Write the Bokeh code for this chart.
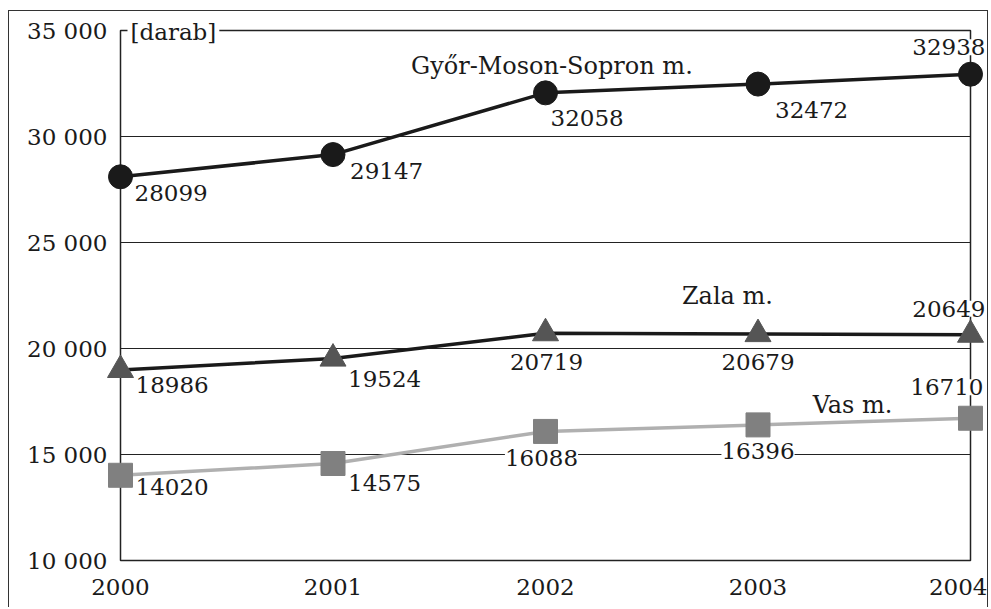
from bokeh.plotting import figure
from bokeh.models import ColumnDataSource, Range1d, FixedTicker, Label
from bokeh.embed import file_html
from bokeh.resources import INLINE
from bokeh.core.properties import value

# ---- data ----
years = [2000, 2001, 2002, 2003, 2004]
gyor = [28099, 29147, 32058, 32472, 32938]
zala = [18986, 19524, 20719, 20679, 20649]
vas = [14020, 14575, 16088, 16396, 16710]
series_names = ["Győr-Moson-Sopron m.", "Zala m.", "Vas m."]
y_ticks = [10000, 15000, 20000, 25000, 30000, 35000]
y_tick_labels = ["10 000", "15 000", "20 000", "25 000", "30 000", "35 000"]
unit_label = "[darab]"

# ---- label placement (screen px offsets, styling only) ----
gyor_align = ["left", "left", "left", "left", "right"]
gyor_xo = [14, 17, 5, 17, 15]
gyor_yo = [16, 16, 25, 26, -27]
zala_align = ["left", "left", "center", "center", "right"]
zala_xo = [15, 15, 1, 0, 15]
zala_yo = [15, 20, 29, 28, -26]
vas_align = ["left", "left", "center", "center", "right"]
vas_xo = [15, 15, -4, 0, 13]
vas_yo = [12, 19, 27, 26, -31]

FONT = "DejaVu Serif"
FS = "23px"
INK = "#1a1a1a"

p = figure(width=980, height=597, output_backend="svg", toolbar_location=None,
           x_range=Range1d(2000, 2004), y_range=Range1d(10000, 35000),
           min_border_left=111, min_border_right=19, min_border_top=19,
           min_border_bottom=48)
p.styles = {"margin-left": "8px", "margin-top": "10px",
            "border-top": "1px solid #333", "border-left": "1px solid #333",
            "border-right": "1px solid #333"}
p.background_fill_color = "white"
p.border_fill_color = "white"
p.outline_line_color = "#222222"
p.outline_line_width = 1.5

p.xgrid.visible = False
p.ygrid.ticker = FixedTicker(ticks=y_ticks[1:-1])
p.ygrid.grid_line_color = "#222222"
p.ygrid.grid_line_width = 1.2

for ax in (p.xaxis[0], p.yaxis[0]):
    ax.axis_line_color = None
    ax.major_tick_line_color = None
    ax.minor_tick_line_color = None
    ax.major_label_text_font = FONT
    ax.major_label_text_font_size = FS
    ax.major_label_text_color = INK
    ax.major_label_text_font_style = "normal"

p.yaxis[0].ticker = FixedTicker(ticks=y_ticks)
p.yaxis[0].major_label_overrides = dict(zip(y_ticks, y_tick_labels))
p.yaxis[0].major_label_standoff = 7
p.xaxis[0].ticker = FixedTicker(ticks=years)
p.xaxis[0].major_label_overrides = {y: str(y) for y in years}
p.xaxis[0].major_label_standoff = 12

# lines
p.line(years, vas, color="#b0b0b0", line_width=3.5)
p.line(years, zala, color=INK, line_width=3.5)
p.line(years, gyor, color=INK, line_width=3.5)

# data labels (drawn before markers so markers stay on top)
def add_labels(vals, align, xo, yo):
    src = ColumnDataSource(dict(x=years, y=vals, text=[str(v) for v in vals],
                                align=align, xo=xo, yo=yo))
    p.text(x="x", y="y", text="text", source=src, x_offset="xo", y_offset="yo",
           text_align="align", text_baseline="middle", text_font=value(FONT),
           text_font_size=FS, text_color=INK, background_fill_color="white",
           level="overlay")

add_labels(gyor, gyor_align, gyor_xo, gyor_yo)
add_labels(zala, zala_align, zala_xo, zala_yo)
add_labels(vas, vas_align, vas_xo, vas_yo)

# markers
p.scatter(years, vas, marker="square", size=24, color="#808080", level="overlay")
p.scatter(years, zala, marker="triangle", size=26, color="#555555", level="overlay")
p.scatter(years, gyor, marker="circle", size=24, color=INK, level="overlay")

# series names
name_pos = [(2002.03, 33349), (2002.856, 22453), (2003.445, 17358)]
for name, (lx, ly) in zip(series_names, name_pos):
    p.add_layout(Label(x=lx, y=ly, text=name, text_align="center",
                       text_baseline="middle", text_font=FONT,
                       text_font_size="24px", text_color=INK))

# unit label over the top frame line
p.text(x=[years[0]], y=[y_ticks[-1]], text=[unit_label], x_offset=7, y_offset=1,
       text_align="left", text_baseline="middle", text_font=value(FONT),
       text_font_size=FS, text_color=INK, background_fill_color="white",
       padding=3, level="overlay")

open("out.html", "w").write(file_html(p, INLINE))
